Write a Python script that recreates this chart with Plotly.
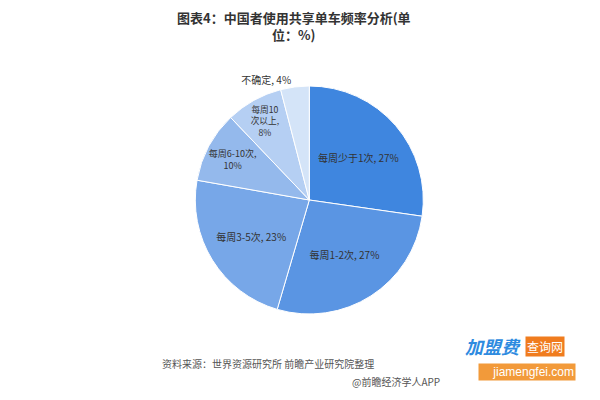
import plotly.graph_objects as go

categories = ["每周少于1次", "每周1-2次", "每周3-5次", "每周6-10次", "每周10次以上", "不确定"]
values = [27, 27, 23, 10, 8, 4]
label_text = ["每周少于1次, 27%", "每周1-2次, 27%", "每周3-5次, 23%",
              "每周6-10次,<br>10%", "每周10<br>次以上,<br>8%", "不确定, 4%"]
colors = ["#3F86DF", "#5A95E3", "#77A7E8", "#94B9EC", "#B5CFF3", "#D4E4F8"]
positions = ["inside", "inside", "inside", "inside", "inside", "outside"]

title_text = "<b>图表4：中国者使用共享单车频率分析(单<br>位：%)</b>"
source_text = "资料来源：世界资源研究所 前瞻产业研究院整理"
app_text = "@前瞻经济学人APP"

FONT = "Noto Sans CJK SC"

fig = go.Figure()
fig.add_trace(go.Pie(
    labels=categories,
    values=values,
    text=label_text,
    texttemplate="%{text}",
    textposition=positions,
    insidetextorientation="horizontal",
    sort=False,
    direction="clockwise",
    rotation=0,
    marker=dict(colors=colors, line=dict(color="#FFFFFF", width=1)),
    textfont=dict(family=FONT, size=10, color="#333333"),
    insidetextfont=dict(family=FONT, size=10, color="#333333"),
    outsidetextfont=dict(family=FONT, size=10, color="#333333"),
    domain=dict(x=[0.323, 0.708], y=[0.215, 0.785]),
    showlegend=False,
    hoverinfo="label+value",
))

fig.add_annotation(text=title_text, x=0.49, y=374, xref="paper", yref="y",
                   showarrow=False, font=dict(family=FONT, size=13, color="#333333"),
                   align="center", yanchor="middle")
fig.add_annotation(text=source_text, x=160, y=37, xref="x", yref="y", xanchor="left",
                   showarrow=False, font=dict(family=FONT, size=10, color="#555555"))
fig.add_annotation(text=app_text, x=442, y=19, xref="x", yref="y", xanchor="right",
                   showarrow=False, font=dict(family=FONT, size=10, color="#555555"))
# watermark-like logo text
fig.add_annotation(text="<b><i>加盟费</i></b>", x=493, y=54, xref="x", yref="y",
                   showarrow=False, font=dict(family=FONT, size=18, color="#2E8BE0"))
fig.add_annotation(text="查询网", x=545, y=54, xref="x", yref="y",
                   showarrow=False, bgcolor="#F07C1E", borderpad=1,
                   font=dict(family=FONT, size=12, color="#FFFFFF"))
fig.add_annotation(text="    jiamengfei.com", x=527, y=28, xref="x", yref="y",
                   showarrow=False, bgcolor="#F29A3A", borderpad=1,
                   font=dict(family="Liberation Sans", size=12, color="#FFFFFF"))

fig.update_layout(
    width=600, height=400,
    margin=dict(l=0, r=0, t=0, b=0),
    paper_bgcolor="#FFFFFF", plot_bgcolor="rgba(0,0,0,0)",
    xaxis=dict(range=[0, 600], visible=False, fixedrange=True),
    yaxis=dict(range=[0, 400], visible=False, fixedrange=True),
)

fig.write_html("out.html", config={"displayModeBar": False},
               post_script="document.body.style.margin='0';")
